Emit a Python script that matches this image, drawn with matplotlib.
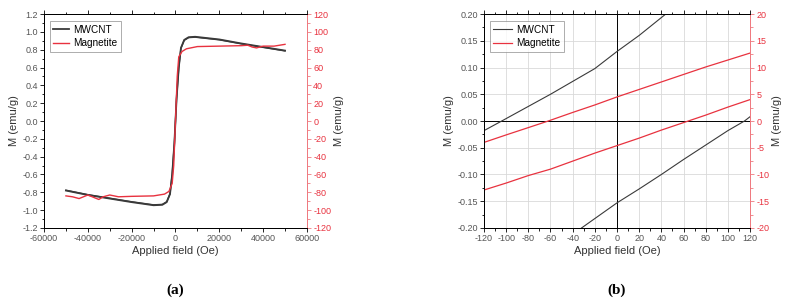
import numpy as np
import matplotlib as mpl
import matplotlib.pyplot as plt
from matplotlib.ticker import MultipleLocator

mpl.rcParams['font.family'] = ['Liberation Sans', 'DejaVu Sans']
mpl.rcParams['axes.unicode_minus'] = False

# %% data, panel (a): full loops
mw_field = [-50000, -40000, -30000, -20000, -10000, -6000, -4000, -2500, -1500, -500, 0,
            500, 1500, 2500, 4000, 6000, 9000, 20000, 30000, 40000, 50000]
mw_m = [-0.78, -0.83, -0.87, -0.91, -0.945, -0.94, -0.91, -0.82, -0.6, -0.25, 0.0,
        0.25, 0.6, 0.82, 0.91, 0.94, 0.945, 0.915, 0.87, 0.83, 0.79]

mag_field = [-50000, -47000, -44000, -40000, -37000, -35000, -33000, -30000, -26000, -20000,
             -10000, -5000, -3000, -1500, -800, 0, 800, 1500, 3000, 5000, 10000, 20000,
             30000, 33000, 35000, 37000, 40000, 45000, 50000]
mag_m = [-84, -85, -87, -83, -86, -88, -85, -83, -85, -84.5,
         -84, -82, -79, -70, -50, 0, 50, 72, 78, 81, 83.5, 84,
         84.5, 85, 83, 82, 84, 84, 86]

# %% data, panel (b): low-field zoom
mw_up_field = [-120, -104, -60, -20, 0, 20, 44]
mw_up_m = [-0.018, 0.0, 0.05, 0.098, 0.13, 0.16, 0.2]
mw_dn_field = [-32, 0, 20, 40, 60, 80, 100, 115, 120]
mw_dn_m = [-0.2, -0.153, -0.127, -0.10, -0.072, -0.045, -0.018, 0.0, 0.008]

mag_up_field = [-120, -100, -62, -40, -20, 0, 20, 40, 60, 80, 100, 120]
mag_up_m = [-4, -2.6, 0, 1.6, 3, 4.5, 5.9, 7.3, 8.7, 10.1, 11.4, 12.7]
mag_dn_field = [-120, -100, -80, -60, -40, -20, 0, 20, 40, 60, 80, 100, 120]
mag_dn_m = [-12.9, -11.6, -10.2, -9, -7.5, -6, -4.6, -3.2, -1.7, -0.3, 1.1, 2.6, 4.0]

# %%
black = '#3a3a3a'
red = '#e8323f'
spine_red = '#ef7a80'
tick_gray = '#555555'
fs = 6.5

fig = plt.figure(figsize=(7.89, 3.05), dpi=100)


def style(ax, ax2):
    for a in (ax, ax2):
        a.spines['right'].set_color(spine_red)
        a.spines['left'].set_color('black')
        a.spines['top'].set_color('black')
        a.spines['bottom'].set_color('black')
        for s in a.spines.values():
            s.set_linewidth(0.7)
    ax.tick_params(axis='both', which='both', direction='out', labelsize=fs,
                   labelcolor=tick_gray, width=0.6, pad=1.5)
    ax.tick_params(which='major', length=3)
    ax.tick_params(which='minor', length=1.8)
    ax.tick_params(axis='x', which='both', top=True)
    ax2.tick_params(axis='y', which='both', direction='out', labelsize=fs,
                    colors=spine_red, width=0.6, pad=1.5)
    ax2.tick_params(axis='y', labelcolor=red)
    ax2.tick_params(which='major', length=3)
    ax2.tick_params(which='minor', length=1.8)
    ax.set_xlabel('Applied field (Oe)', fontsize=8, color='#333333', labelpad=2)
    ax.set_ylabel('M (emu/g)', fontsize=8, color='#333333', labelpad=2)
    ax2.set_ylabel('M (emu/g)', fontsize=8, color='#333333', labelpad=2)


def legend(ax, handles, hl):
    leg = ax.legend(handles, ['MWCNT', 'Magnetite'], loc='upper left', fontsize=7.2,
                    frameon=True, fancybox=False, edgecolor='#888888', borderpad=0.35,
                    handlelength=hl, handletextpad=0.4, labelspacing=0.35,
                    borderaxespad=0.3, bbox_to_anchor=(0.01, 0.98))
    leg.get_frame().set_linewidth(0.6)


# panel (a)
ax = fig.add_axes([0.0558, 0.2525, 0.3332, 0.7015])
ax2 = ax.twinx()
l1, = ax.plot(mw_field, mw_m, color=black, lw=1.3, label='MWCNT')
ax.plot(mw_field, np.array(mw_m) * 0.995, color=black, lw=1.0)
l2, = ax2.plot(mag_field, mag_m, color=red, lw=1.0, label='Magnetite')
ax.set_xlim(-60000, 60000)
ax.set_ylim(-1.2, 1.2)
ax2.set_ylim(-120, 120)
ax.xaxis.set_major_locator(MultipleLocator(20000))
ax.xaxis.set_minor_locator(MultipleLocator(10000))
ax.yaxis.set_major_locator(MultipleLocator(0.2))
ax.yaxis.set_minor_locator(MultipleLocator(0.1))
ax.yaxis.set_major_formatter(mpl.ticker.FormatStrFormatter('%.1f'))
ax2.yaxis.set_major_locator(MultipleLocator(20))
ax2.yaxis.set_minor_locator(MultipleLocator(10))
style(ax, ax2)
legend(ax, [l1, l2], 1.6)
fig.text(0.222, 0.035, '(a)', fontsize=11, fontweight='bold', family='Liberation Serif',
         ha='center')

# panel (b)
bx = fig.add_axes([0.6134, 0.2525, 0.3372, 0.7015])
bx2 = bx.twinx()
bx.grid(True, which='major', color='#d9d9d9', lw=0.6)
bx.set_axisbelow(True)
bx.axhline(0, color='black', lw=0.7)
bx.axvline(0, color='black', lw=0.7)
m1, = bx.plot(mw_up_field, mw_up_m, color=black, lw=0.8, label='MWCNT')
bx.plot(mw_dn_field, mw_dn_m, color=black, lw=0.8)
m2, = bx2.plot(mag_up_field, mag_up_m, color=red, lw=0.9, label='Magnetite')
bx2.plot(mag_dn_field, mag_dn_m, color=red, lw=0.9)
bx.set_xlim(-120, 120)
bx.set_ylim(-0.2, 0.2)
bx2.set_ylim(-20, 20)
bx.xaxis.set_major_locator(MultipleLocator(20))
bx.xaxis.set_minor_locator(MultipleLocator(10))
bx.yaxis.set_major_locator(MultipleLocator(0.05))
bx.yaxis.set_minor_locator(MultipleLocator(0.025))
bx.yaxis.set_major_formatter(mpl.ticker.FormatStrFormatter('%.2f'))
bx2.yaxis.set_major_locator(MultipleLocator(5))
bx2.yaxis.set_minor_locator(MultipleLocator(2.5))
style(bx, bx2)
legend(bx, [m1, m2], 1.9)
fig.text(0.781, 0.035, '(b)', fontsize=11, fontweight='bold', family='Liberation Serif',
         ha='center')

fig.savefig('out.png', dpi=100)
